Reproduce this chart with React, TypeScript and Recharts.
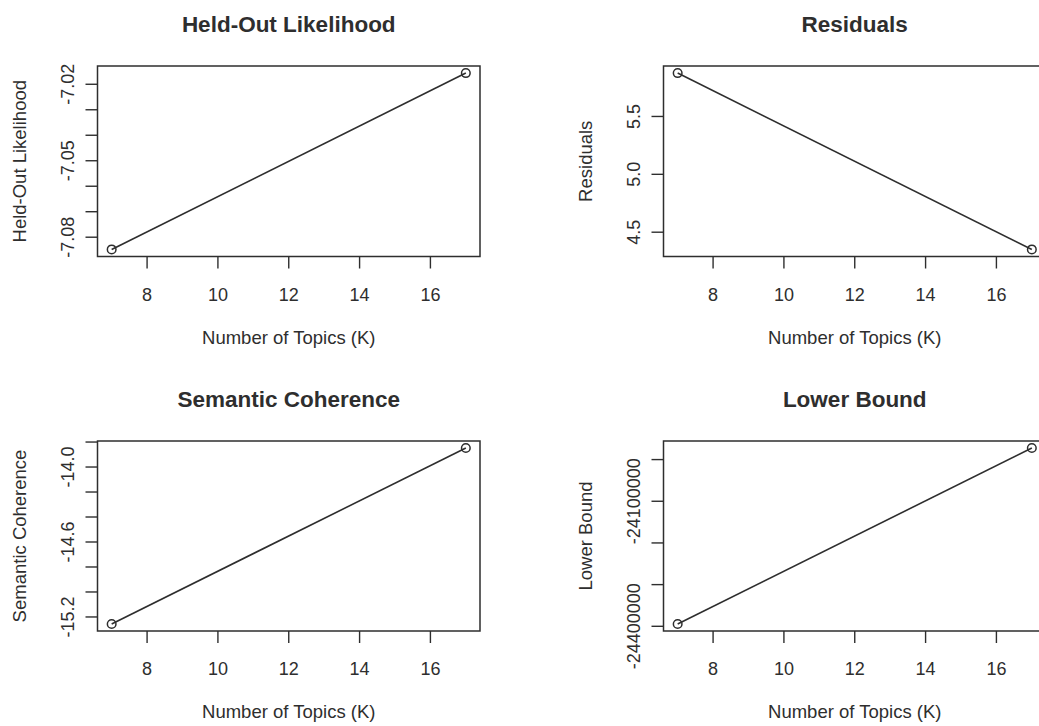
import React from "react";
import { LineChart, Line, XAxis, YAxis, ReferenceArea } from "recharts";

// number of topics tried
const topicsK = [7, 17];

// diagnostic values per K
const heldOutLikelihood = [-7.0848, -7.0156];
const residuals = [5.875, 4.351];
const semanticCoherence = [-15.256, -13.848];
const lowerBound = [-24394400, -23972300];

// axis ticks (R pretty ticks, labels that survive overlap)
const kTicks = [8, 10, 12, 14, 16];
const heldOutTicks = [-7.08, -7.07, -7.06, -7.05, -7.04, -7.03, -7.02];
const heldOutLabels = [-7.08, -7.05, -7.02];
const residualTicks = [4.5, 5.0, 5.5];
const residualLabels = [4.5, 5.0, 5.5];
const coherenceTicks = [-15.2, -15.0, -14.8, -14.6, -14.4, -14.2, -14.0, -13.8];
const coherenceLabels = [-15.2, -14.6, -14.0];
const boundTicks = [-24400000, -24300000, -24200000, -24100000, -24000000];
const boundLabels = [-24400000, -24100000];

const FONT = '"Liberation Sans", Arial, Helvetica, sans-serif';
const INK = "#2e2e2e";

// R default: range extended by 4% on each side
const pad = (v: number[]): [number, number] => {
  const lo = Math.min(...v);
  const hi = Math.max(...v);
  const r = hi - lo;
  return [lo - 0.04 * r, hi + 0.04 * r];
};

const layout = [
  { left: 0, top: 0, width: 520, height: 363, margin: { top: 66, right: 40, bottom: 66.5, left: 37.5 } },
  { left: 520, top: 0, width: 560, height: 363, margin: { top: 66, right: 34, bottom: 66.5, left: 83.5 } },
  { left: 0, top: 363, width: 520, height: 363, margin: { top: 78, right: 40, bottom: 55, left: 37.5 } },
  { left: 520, top: 363, width: 560, height: 363, margin: { top: 78, right: 34, bottom: 55, left: 83.5 } },
];

const panels = [
  { title: "Held-Out Likelihood", values: heldOutLikelihood, ticks: heldOutTicks, labels: heldOutLabels, digits: 2 },
  { title: "Residuals", values: residuals, ticks: residualTicks, labels: residualLabels, digits: 1 },
  { title: "Semantic Coherence", values: semanticCoherence, ticks: coherenceTicks, labels: coherenceLabels, digits: 1 },
  { title: "Lower Bound", values: lowerBound, ticks: boundTicks, labels: boundLabels, digits: 0 },
];

const Y_W = 60;
const X_H = 40;

function Panel({ p, l }: { p: (typeof panels)[number]; l: (typeof layout)[number] }) {
  const data = topicsK.map((k, i) => ({ k, v: p.values[i] }));
  const yDomain = pad(p.values);
  const xDomain = pad(topicsK);

  const yTick = (props: any) => {
    const { x, y, payload } = props;
    const show = p.labels.some((t) => Math.abs(t - payload.value) < 1e-9);
    if (!show) return <g />;
    const bx = x - 11;
    return (
      <text
        x={bx}
        y={y}
        transform={`rotate(-90, ${bx}, ${y})`}
        textAnchor="middle"
        fontSize={18}
        fontFamily={FONT}
        fill={INK}
      >
        {payload.value.toFixed(p.digits)}
      </text>
    );
  };

  const xTick = (props: any) => {
    const { x, y, payload } = props;
    return (
      <text x={x} y={y + 32} textAnchor="middle" fontSize={18} fontFamily={FONT} fill={INK}>
        {payload.value}
      </text>
    );
  };

  const xTitle = (props: any) => {
    const vb = props.viewBox || {};
    return (
      <text x={vb.x + vb.width / 2} y={vb.y + 87} textAnchor="middle" fontSize={18.5} fontFamily={FONT} fill={INK}>
        Number of Topics (K)
      </text>
    );
  };

  const yTitle = (props: any) => {
    const vb = props.viewBox || {};
    const bx = vb.x + Y_W - 72;
    const cy = vb.y + vb.height / 2;
    return (
      <text
        x={bx}
        y={cy}
        transform={`rotate(-90, ${bx}, ${cy})`}
        textAnchor="middle"
        fontSize={18.5}
        fontFamily={FONT}
        fill={INK}
      >
        {p.title}
      </text>
    );
  };

  const mainTitle = (props: any) => {
    const vb = props.viewBox || {};
    return (
      <text
        x={vb.x + vb.width / 2}
        y={vb.y - 34}
        textAnchor="middle"
        fontSize={22.5}
        fontWeight="bold"
        fontFamily={FONT}
        fill={INK}
      >
        {p.title}
      </text>
    );
  };

  return (
    <div style={{ position: "absolute", left: l.left, top: l.top }}>
      <LineChart width={l.width} height={l.height} data={data} margin={l.margin}>
        <XAxis
          dataKey="k"
          type="number"
          domain={xDomain}
          ticks={kTicks}
          allowDataOverflow
          axisLine={false}
          tickLine={{ stroke: INK, strokeWidth: 1.4 }}
          tickSize={12}
          tickMargin={0}
          height={X_H}
          tick={xTick}
          interval={0}
          label={xTitle}
        />
        <YAxis
          type="number"
          domain={yDomain}
          ticks={p.ticks}
          allowDataOverflow
          axisLine={false}
          tickLine={{ stroke: INK, strokeWidth: 1.4 }}
          tickSize={12}
          tickMargin={0}
          width={Y_W}
          tick={yTick}
          interval={0}
          label={yTitle}
        />
        <ReferenceArea
          x1={xDomain[0]}
          x2={xDomain[1]}
          y1={yDomain[0]}
          y2={yDomain[1]}
          fill="none"
          fillOpacity={0}
          stroke={INK}
          strokeWidth={1.5}
          ifOverflow="visible"
          label={mainTitle}
        />
        <Line
          dataKey="v"
          stroke={INK}
          strokeWidth={1.6}
          isAnimationActive={false}
          dot={{ r: 4.3, fill: "none", stroke: INK, strokeWidth: 1.5 }}
        />
      </LineChart>
    </div>
  );
}

export default function App() {
  return (
    <div
      style={{
        position: "absolute",
        left: 0,
        top: 0,
        width: 1039,
        height: 726,
        overflow: "hidden",
        background: "#fff",
      }}
    >
      {panels.map((p, i) => (
        <Panel key={p.title} p={p} l={layout[i]} />
      ))}
    </div>
  );
}
